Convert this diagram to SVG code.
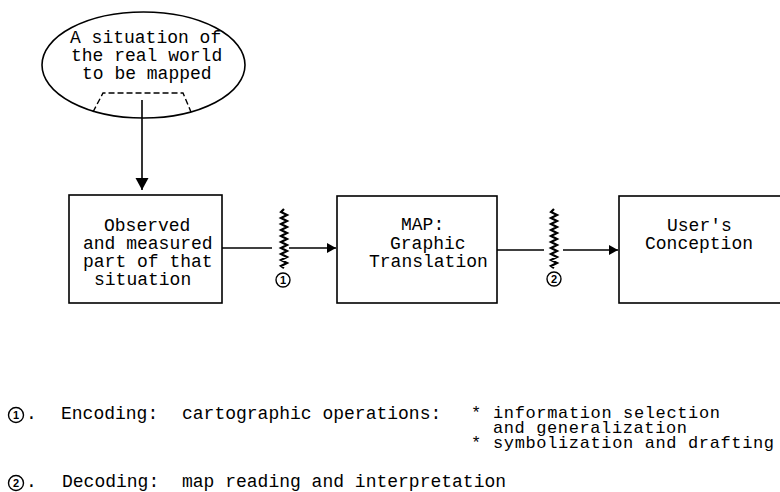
<svg xmlns="http://www.w3.org/2000/svg" width="780" height="492" viewBox="0 0 780 492">
<style>
.t{font-family:"Liberation Mono","DejaVu Sans Mono",monospace;font-size:18px;fill:#000}
.s{font-size:17px}
.box{fill:#fff;stroke:#000;stroke-width:1.6}
.ln{stroke:#000;stroke-width:1.6;fill:none}
.dash{stroke:#000;stroke-width:1.4;fill:none;stroke-dasharray:6 3}
.zz{stroke:#000;stroke-width:2.2;fill:none}
.cir{fill:#fff;stroke:#000;stroke-width:1.4}
.num{font-family:"Liberation Sans",Arial,sans-serif;font-size:11px;font-weight:bold;text-anchor:middle;fill:#000}
</style>
<defs>
<marker id="ah" markerWidth="10" markerHeight="10" refX="9" refY="5" orient="auto" markerUnits="userSpaceOnUse"><path d="M0,0 L9,5 L0,10 Z" fill="#000"/></marker>
<marker id="ahv" markerWidth="14" markerHeight="14" refX="12" refY="6.5" orient="auto" markerUnits="userSpaceOnUse"><path d="M0,0 L12,6.5 L0,13 Z" fill="#000"/></marker>
</defs>
<rect width="780" height="492" fill="#fff"/>

<g id="node-situation">
<ellipse cx="143.5" cy="65" rx="101.5" ry="53" class="box"/>
<path d="M93,112 L103,93 L183,93 L191,112" class="dash"/>
<text class="t" x="70" y="43">A situation of</text>
<text class="t" x="71" y="61">the real world</text>
<text class="t" x="82" y="79">to be mapped</text>
</g>

<g id="node-observed">
<rect x="69" y="195" width="153" height="108" class="box"/>
<text class="t" x="104" y="231">Observed</text>
<text class="t" x="83" y="249">and measured</text>
<text class="t" x="83" y="267">part of that</text>
<text class="t" x="94" y="285">situation</text>
</g>

<g id="node-map">
<rect x="337" y="196" width="160" height="107" class="box"/>
<text class="t" x="401" y="230">MAP:</text>
<text class="t" x="390" y="249">Graphic</text>
<text class="t" x="369" y="267">Translation</text>
</g>

<g id="node-user">
<rect x="619" y="196" width="170" height="107" class="box"/>
<text class="t" x="667" y="231">User's</text>
<text class="t" x="645" y="249">Conception</text>
</g>

<g id="connectors">
<line x1="142" y1="100" x2="142" y2="190" class="ln" marker-end="url(#ahv)"/>
<line x1="222" y1="248" x2="272" y2="248" class="ln"/>
<path d="M284,209 l-3,3 l6,3 l-6,3 l6,3 l-6,3 l6,3 l-6,3 l6,3 l-6,3 l6,3 l-6,3 l6,3 l-6,3 l6,3 l-6,3 l6,3 l-6,3 l6,3 l-6,3 l3,2" class="zz"/>
<line x1="289" y1="248" x2="336" y2="248" class="ln" marker-end="url(#ah)"/>
<circle cx="283" cy="280" r="7" class="cir"/>
<text class="num" x="283" y="284">1</text>
<line x1="497" y1="250" x2="544" y2="250" class="ln"/>
<path d="M554,209 l-3,3 l6,3 l-6,3 l6,3 l-6,3 l6,3 l-6,3 l6,3 l-6,3 l6,3 l-6,3 l6,3 l-6,3 l6,3 l-6,3 l6,3 l-6,3 l6,3 l-6,3 l3,2" class="zz"/>
<line x1="563" y1="250" x2="618" y2="250" class="ln" marker-end="url(#ah)"/>
<circle cx="554" cy="279" r="7" class="cir"/>
<text class="num" x="554" y="283">2</text>
</g>

<g id="legend">
<circle cx="16" cy="415" r="7.5" class="cir"/>
<text class="num" x="16" y="419">1</text>
<text class="t" x="26" y="419">.</text>
<text class="t" x="61" y="419">Encoding:</text>
<text class="t" x="182" y="419">cartographic operations:</text>
<text class="t s" x="471" y="418">*</text>
<text class="t s" x="493" y="418" textLength="227">information selection</text>
<text class="t s" x="493" y="433" textLength="194">and generalization</text>
<text class="t s" x="471" y="448">*</text>
<text class="t s" x="493" y="448" textLength="281">symbolization and drafting</text>
<circle cx="16" cy="483" r="7.5" class="cir"/>
<text class="num" x="16" y="487">2</text>
<text class="t" x="26" y="487">.</text>
<text class="t" x="62" y="487">Decoding:</text>
<text class="t" x="182" y="487">map reading and interpretation</text>
</g>
</svg>
